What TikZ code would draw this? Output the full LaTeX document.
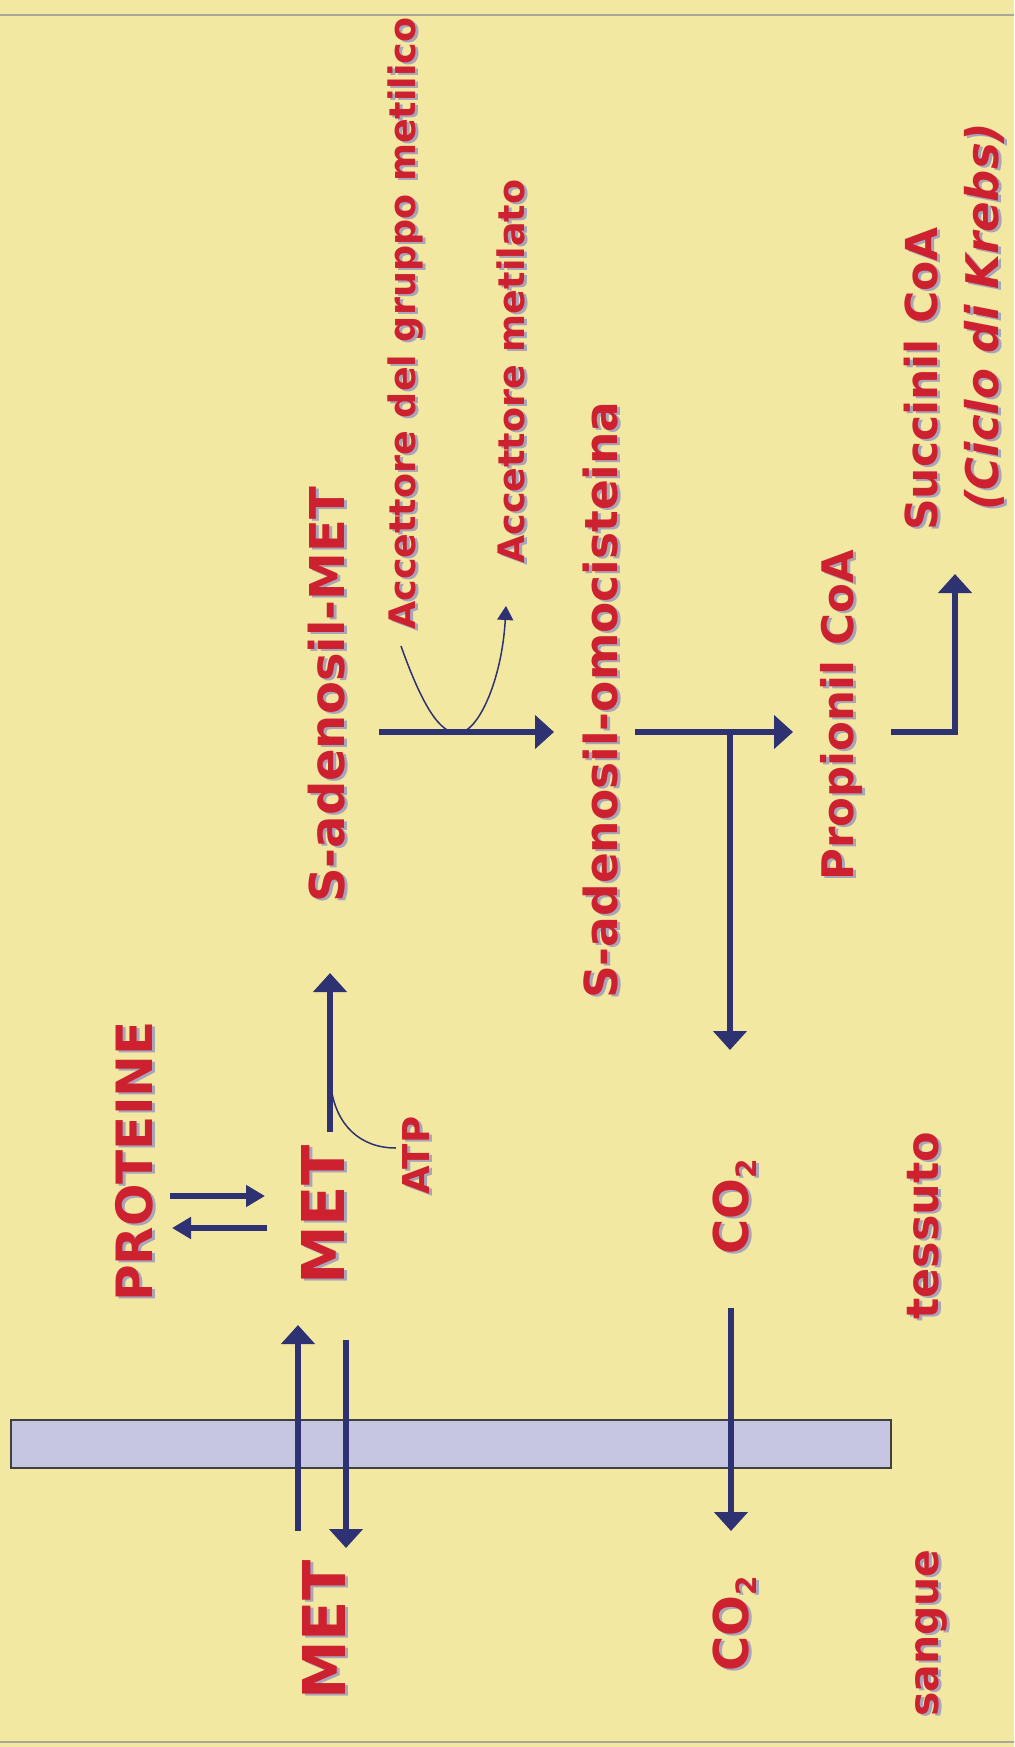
\documentclass[tikz,border=0pt]{standalone}
\usepackage{fontspec}
\setmainfont{DejaVu Sans}
\usetikzlibrary{arrows.meta,calc}

\definecolor{paper}{HTML}{F2E8A2}
\definecolor{ink}{HTML}{CD2130}
\definecolor{shade}{HTML}{A9A5B9}
\definecolor{navy}{HTML}{2E3272}
\definecolor{membr}{HTML}{C6C6E2}
\definecolor{rule}{HTML}{ABA69A}

% label set upright-reading (rotated), with a soft grey drop shadow
% #1 name, #2 x of baseline, #3 y of start, #4 font size, #5 text
\newcommand\molab[5]{%
  \node[lbl,text=shade,font=\bfseries\fontsize{#4}{#4}\selectfont] at (#2+3,#3+2) {#5};
  \node[lbl,font=\bfseries\fontsize{#4}{#4}\selectfont] (#1) at (#2,#3) {#5};}
\newcommand\subtwo{\raisebox{-8pt}{\fontsize{28}{28}\selectfont 2}}

\tikzset{
  lbl/.style={rotate=90,anchor=base west,inner sep=0pt,text=ink},
  flow/.style={navy,line width=6.5pt,-{Triangle[length=19pt,width=33pt]}},
  swap/.style={navy,line width=6pt,-{Triangle[length=19pt,width=21pt]}},
  thin/.style={navy,line width=1.5pt},
  membrane/.style={draw=black!75,line width=2pt,fill=membr,
    minimum width=880pt,minimum height=48pt,inner sep=0pt}
}

\begin{document}
\begin{tikzpicture}[x=1pt,y=-1pt]
\fill[paper] (0,0) rectangle (1014,1747);
\useasboundingbox (0,0) rectangle (1014,1747);
\draw[rule,line width=2pt] (0,15.5) -- (1014,15.5);
\draw[rule,line width=2pt] (0,1742) -- (1014,1742);

% cell membrane
\node[membrane] (membrane) at (451,1444) {};

% labels
\molab{metS}{345}{1700}{59}{MET}
\molab{metT}{344}{1285}{59}{MET}
\molab{prot}{152}{1302}{50}{PROTEINE}
\molab{atp}{429}{1195}{37}{ATP}
\molab{sam}{344}{903}{48}{S-adenosil-MET}
\molab{accA}{415}{630}{36.5}{Accettore del gruppo metilico}
\molab{accB}{524}{564}{36.5}{Accettore metilato}
\molab{sah}{617}{999}{45.5}{S-adenosil-omocisteina}
\molab{prop}{853}{881}{43.5}{Propionil CoA}
\molab{succ}{937}{531}{44}{Succinil CoA}
\molab{krebs}{998}{511}{45}{\itshape (Ciclo di Krebs)}
\molab{co2T}{748}{1255}{48}{CO\subtwo}
\molab{co2S}{748}{1672}{48}{CO\subtwo}
\molab{tess}{938}{1320}{44.5}{tessuto}
\molab{sang}{938}{1717}{41}{sangue}

% connector end points
\coordinate (inA) at (298,1531);   \coordinate (inB) at (298,1325);
\coordinate (outA) at (346,1340);  \coordinate (outB) at (346,1548);
\coordinate (cA) at (731,1308);    \coordinate (cB) at (731,1531);
\coordinate (pA) at (170,1196);    \coordinate (pB) at (265,1196);
\coordinate (qA) at (267,1228);    \coordinate (qB) at (172,1228);
\coordinate (atpA) at (330,1132);  \coordinate (atpB) at (330,973);
\coordinate (atpC) at (331,1087);  \coordinate (atpD) at (396,1148);
\coordinate (samA) at (379,732);   \coordinate (samB) at (554,732);
\coordinate (accIn) at (401,646);  \coordinate (accLow) at (458,733);
\coordinate (accOut) at (506,606);
\coordinate (sahA) at (635,732);   \coordinate (sahB) at (793,732);
\coordinate (fork) at (730,732);   \coordinate (forkB) at (730,1050);
\coordinate (prA) at (891,732);    \coordinate (prB) at (955,732);
\coordinate (prC) at (955,574);

% transport across the membrane
\draw[flow] (inA) -- (inB);
\draw[flow] (outA) -- (outB);
\draw[flow] (cA) -- (cB);

% protein turnover
\draw[swap] (pA) -- (pB);
\draw[swap] (qA) -- (qB);

% activation by ATP
\draw[flow] (atpA) -- (atpB);
\draw[thin] (atpC) .. controls (336,1125) and (360,1148) .. (atpD);

% methyl transfer
\draw[flow] (samA) -- (samB);
\draw[thin] (accIn) .. controls (428,722) and (445,733) .. (accLow);
\draw[thin,-{Triangle[length=14pt,width=16pt]}] (accLow) .. controls (478,733) and (502,680) .. (accOut);

% degradation
\draw[flow] (sahA) -- (sahB);
\draw[flow] (fork) -- (forkB);
\draw[flow] (prA) -- (prB) -- (prC);
\end{tikzpicture}
\end{document}
